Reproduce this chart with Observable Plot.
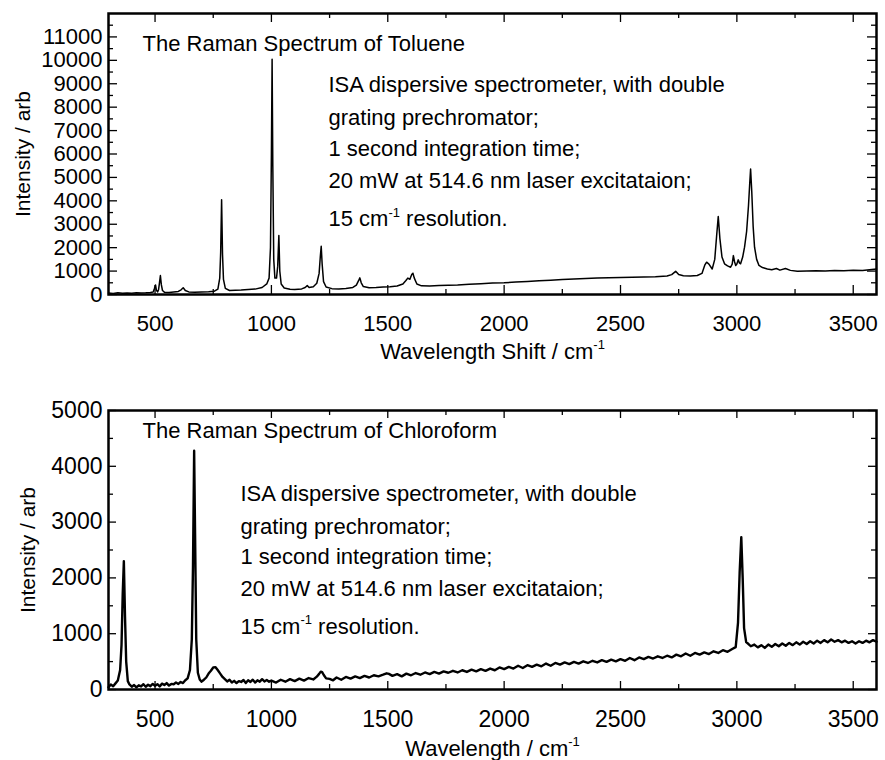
<!DOCTYPE html>
<html><head><meta charset="utf-8">
<script src="https://cdn.jsdelivr.net/npm/d3@7"></script>
<script src="https://cdn.jsdelivr.net/npm/@observablehq/plot@0.6"></script>
<style>
body{margin:0;background:#fff;}
#chart{width:885px;height:760px;overflow:hidden;}
svg{display:block;}
</style></head><body><div id="chart"></div>
<script>
// ---- Toluene spectrum (Raman shift cm-1, intensity arb) ----
const tolueneShift = [300,320,340,360,380,400,420,440,460,480,492,497,502,506,511,515,519,523,527,532,540,560,580,600,612,621,630,645,670,700,730,755,770,778,782,786,790,794,802,820,845,870,900,930,960,980,990,996,1000,1003,1006,1010,1015,1022,1027,1032,1036,1042,1055,1080,1100,1130,1145,1154,1162,1180,1195,1205,1210,1214,1218,1224,1235,1260,1290,1320,1350,1365,1375,1380,1386,1395,1420,1450,1480,1510,1540,1565,1578,1586,1595,1603,1608,1614,1625,1645,1680,1720,1760,1800,1850,1900,1950,2000,2050,2100,2150,2200,2250,2300,2350,2400,2450,2500,2550,2600,2650,2700,2720,2737,2750,2770,2800,2830,2850,2862,2870,2880,2894,2905,2913,2920,2927,2936,2947,2960,2973,2980,2985,2990,2995,3000,3006,3011,3016,3025,3033,3042,3050,3055,3059,3064,3070,3076,3085,3095,3110,3131,3150,3170,3185,3209,3230,3260,3300,3340,3380,3420,3460,3500,3540,3570,3600];
const tolueneIntensity = [60,45,70,55,65,50,75,60,70,85,110,250,410,180,110,200,500,810,420,170,100,90,110,130,200,290,170,110,100,110,120,140,230,700,1800,4050,1700,650,260,170,180,190,210,230,300,450,700,2000,6000,10050,5500,1500,700,700,1200,2520,1000,450,280,220,210,240,300,380,300,330,480,900,1600,2060,1300,550,320,250,240,260,300,400,600,710,500,340,290,300,320,330,360,450,600,700,650,850,910,700,450,370,360,380,400,410,440,460,490,500,530,560,590,610,640,660,680,700,720,730,740,750,760,790,850,990,850,800,790,810,900,1250,1380,1300,1090,1500,2500,3330,2400,1600,1310,1220,1165,1300,1660,1400,1240,1300,1480,1350,1310,1600,2020,2700,3800,4700,5360,4400,2900,2020,1500,1240,1150,1090,1060,1110,1040,1110,1030,990,1000,1010,1000,1020,1010,1040,1030,1060,1090];

// ---- Chloroform spectrum ----
const chloroformShift = [300,310,320,330,340,350,356,361,366,371,376,383,390,400,410,420,430,440,450,460,470,480,490,500,510,520,530,540,550,560,570,580,590,600,610,620,630,640,650,658,663,668,672,677,684,692,700,710,720,730,740,750,760,770,780,790,800,810,820,830,840,850,860,870,880,890,900,910,920,930,940,950,960,970,980,990,1000,1020,1040,1060,1080,1100,1120,1140,1160,1180,1195,1205,1212,1218,1225,1235,1250,1265,1280,1300,1320,1340,1360,1380,1400,1420,1440,1460,1480,1495,1505,1520,1540,1560,1580,1600,1620,1640,1660,1680,1700,1720,1740,1760,1780,1800,1820,1840,1860,1880,1900,1920,1940,1960,1980,2000,2020,2040,2060,2080,2100,2120,2140,2160,2180,2200,2220,2240,2260,2280,2300,2320,2340,2360,2380,2400,2420,2440,2460,2480,2500,2520,2540,2560,2580,2600,2620,2640,2660,2680,2700,2720,2740,2760,2780,2800,2820,2840,2860,2880,2900,2920,2940,2960,2980,2995,3005,3012,3019,3025,3031,3040,3050,3060,3075,3090,3105,3120,3135,3150,3165,3180,3195,3210,3225,3240,3255,3270,3285,3300,3315,3330,3345,3360,3375,3390,3405,3420,3435,3450,3465,3480,3495,3510,3525,3540,3555,3570,3585,3600];
const chloroformIntensity = [40,90,60,110,160,350,800,1700,2300,1300,500,150,90,50,80,40,75,55,95,50,85,60,100,65,95,55,105,80,115,70,100,95,125,100,135,115,165,200,350,900,2200,4280,2800,900,300,180,140,175,215,285,335,395,400,345,285,225,185,145,175,125,155,115,150,135,170,115,165,135,175,125,165,140,185,145,170,140,160,125,175,140,185,150,195,160,205,180,230,280,320,310,260,200,190,165,215,175,225,195,235,205,245,215,255,235,265,290,280,245,275,235,285,255,295,265,305,275,315,285,325,300,335,305,345,315,355,325,365,335,375,345,395,365,405,375,425,385,435,405,445,415,465,425,475,445,485,455,495,465,505,475,515,485,525,495,535,505,545,515,565,525,575,545,585,555,595,565,605,575,625,595,645,605,655,625,665,635,685,655,705,675,725,760,1200,2100,2730,2000,1100,850,815,775,805,755,795,745,805,765,815,775,825,785,835,795,845,805,855,815,865,825,875,835,885,845,895,855,885,845,875,835,865,825,865,835,875,845,885,855];

// ---- Axis ticks ----
const xTicksMajor = [500,1000,1500,2000,2500,3000,3500];
const xTicksMinor = [750,1250,1750,2250,2750,3250];
const tolueneYTicks = [0,1000,2000,3000,4000,5000,6000,7000,8000,9000,10000,11000];
const tolueneYMinor = [500,1500,2500,3500,4500,5500,6500,7500,8500,9500,10500,11500];
const chloroYTicks = [0,1000,2000,3000,4000,5000];
const chloroYMinor = [500,1500,2500,3500,4500];

// ---- Texts ----
const tolueneTitle = "The Raman Spectrum of Toluene";
const chloroTitle = "The Raman Spectrum of Chloroform";
const noteLines = ["ISA dispersive spectrometer, with double","grating prechromator;","1 second integration time;","20 mW at 514.6 nm laser excitataion;","15 cm^-1 resolution."];
const yLabel = "Intensity / arb";
const tolueneXLabel = "Wavelength Shift / cm^-1";
const chloroXLabel = "Wavelength / cm^-1";

const FONT = "'Liberation Sans', Arial, Helvetica, sans-serif";

function addSuperscripts(svg) {
  d3.select(svg).selectAll("text").each(function() {
    const t = this.textContent;
    if (!t.includes("^-1")) return;
    const [before, after] = t.split("^-1");
    const sel = d3.select(this);
    const fs = parseFloat(sel.attr("font-size")) || 22;
    sel.text(null);
    sel.append("tspan").text(before);
    sel.append("tspan").attr("dy", -fs * 0.42).attr("font-size", Math.round(fs * 0.6)).text("-1");
    sel.append("tspan").attr("dy", fs * 0.42).text(after);
  });
}

function panel(cfg) {
  const W = 885, ML = 108, MR = 9;
  const pw = W - ML - MR;
  const ph = cfg.height - cfg.marginTop - cfg.marginBottom;
  const data = cfg.shift.map((x, i) => ({x, y: cfg.intensity[i]}));
  const tk = {stroke: "#000", strokeWidth: 1.3};
  const marks = [
    Plot.line(data, {x: "x", y: "y", stroke: "#000", strokeWidth: cfg.lineWidth, strokeLinejoin: "round"}),
    Plot.tickX(xTicksMajor, {x: d => d, ...tk, insetTop: ph - cfg.major}),
    Plot.tickX(xTicksMajor, {x: d => d, ...tk, insetBottom: ph - cfg.major}),
    Plot.tickX(xTicksMinor, {x: d => d, ...tk, insetTop: ph - cfg.minor}),
    Plot.tickX(xTicksMinor, {x: d => d, ...tk, insetBottom: ph - cfg.minor}),
    Plot.tickY(cfg.yTicks, {y: d => d, ...tk, insetRight: pw - cfg.major}),
    Plot.tickY(cfg.yTicks, {y: d => d, ...tk, insetLeft: pw - cfg.major}),
    Plot.tickY(cfg.yMinor, {y: d => d, ...tk, insetRight: pw - cfg.minor}),
    Plot.tickY(cfg.yMinor, {y: d => d, ...tk, insetLeft: pw - cfg.minor}),
    Plot.axisX(xTicksMajor, {tickSize: 0, tickPadding: 21, fontSize: cfg.tickFont, label: null, tickFormat: d3.format("d")}),
    Plot.axisY(cfg.yTicks, {tickSize: 0, tickPadding: 6, fontSize: cfg.tickFont, label: null, tickFormat: d3.format("d")}),
    Plot.frame({stroke: "#000", strokeWidth: 2.5}),
    Plot.text([cfg.title], {text: d => d, frameAnchor: "top-left", dx: 34, dy: cfg.titleDy, lineAnchor: "middle", textAnchor: "start", fontSize: 22}),
    ...noteLines.map((s, i) => Plot.text([s], {text: d => d, frameAnchor: "top-left", dx: cfg.noteDx, dy: cfg.noteDys[i], lineAnchor: "middle", textAnchor: "start", fontSize: 22})),
    Plot.text([yLabel], {text: d => d, frameAnchor: "left", dx: cfg.yLabelDx, rotate: -90, textAnchor: "middle", lineAnchor: "middle", fontSize: 21}),
    Plot.text([cfg.xLabel], {text: d => d, frameAnchor: "bottom", dy: cfg.xLabelDy, textAnchor: "middle", lineAnchor: "middle", fontSize: 22})
  ];
  const svg = Plot.plot({
    width: W, height: cfg.height,
    marginLeft: ML, marginRight: MR, marginTop: cfg.marginTop, marginBottom: cfg.marginBottom,
    x: {domain: [300, 3600], label: null},
    y: {domain: cfg.yDomain, label: null},
    style: {fontFamily: FONT, background: "#fff", color: "#000", overflow: "visible"},
    marks
  });
  addSuperscripts(svg);
  return svg;
}

const topPanel = panel({
  shift: tolueneShift, intensity: tolueneIntensity,
  yDomain: [0, 12000], yTicks: tolueneYTicks, yMinor: tolueneYMinor,
  height: 370, marginTop: 13, marginBottom: 76,
  title: tolueneTitle, titleDy: 30,
  noteDx: 220, noteDys: [71.5, 104, 135.5, 167, 205.5],
  xLabel: tolueneXLabel, xLabelDy: 57, yLabelDx: -85,
  tickFont: 22, lineWidth: 1.5, major: 9, minor: 5
});
const bottomPanel = panel({
  shift: chloroformShift, intensity: chloroformIntensity,
  yDomain: [0, 5000], yTicks: chloroYTicks, yMinor: chloroYMinor,
  height: 390, marginTop: 40, marginBottom: 71,
  title: chloroTitle, titleDy: 20,
  noteDx: 132, noteDys: [83, 116.5, 146.5, 178, 216],
  xLabel: chloroXLabel, xLabelDy: 59, yLabelDx: -80,
  tickFont: 23, lineWidth: 2.4, major: 8, minor: 5
});
document.getElementById("chart").append(topPanel, bottomPanel);
</script>
</body></html>
